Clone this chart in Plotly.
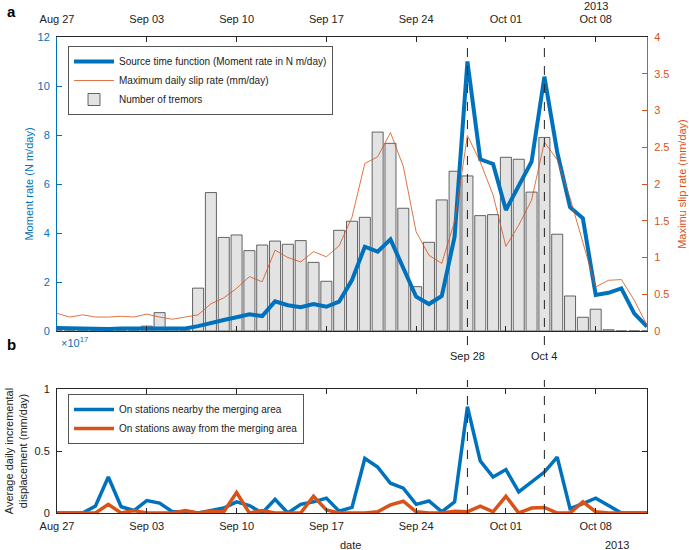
import plotly.graph_objects as go
import pandas as pd

# ---------------- data ----------------
dates = pd.date_range("2013-08-27", periods=47, freq="D")

tremors = [0, 0, 0, 0, 0, 0, 0, 0.2, 0.75, 0.1, 0, 1.75, 5.65, 3.82, 3.92, 3.28,
           3.51, 3.67, 3.54, 3.69, 2.80, 2.03, 4.11, 4.48, 4.64, 8.12, 7.66, 5.01,
           1.81, 3.62, 5.35, 6.52, 6.33, 4.71, 4.75, 7.09, 7.01, 5.67, 7.90, 3.95,
           1.43, 0.56, 0.89, 0.05, 0, 0, 0]

moment_rate = [0.12, 0.1, 0.1, 0.1, 0.08, 0.1, 0.1, 0.1, 0.08, 0.08, 0.1, 0.2, 0.34,
               0.45, 0.56, 0.68, 0.61, 1.21, 1.05, 0.97, 1.10, 0.99, 1.20, 2.08, 3.44,
               3.24, 3.74, 2.56, 1.40, 1.10, 1.43, 3.85, 11.0, 7.01, 6.82, 4.94, 5.96,
               6.91, 10.38, 7.3, 5.05, 4.60, 1.47, 1.56, 1.74, 0.72, 0.18]

slip_rate = [0.24, 0.19, 0.22, 0.19, 0.19, 0.20, 0.19, 0.23, 0.19, 0.16, 0.19, 0.22,
             0.37, 0.45, 0.58, 0.74, 0.67, 1.10, 1.00, 0.94, 1.08, 1.01, 1.16, 1.55,
             2.28, 2.37, 2.70, 2.24, 1.35, 1.03, 0.92, 1.49, 2.66, 2.30, 1.85, 1.15,
             1.44, 1.78, 2.57, 2.33, 1.81, 1.19, 0.60, 0.69, 0.70, 0.42, 0.08]

near_disp = [0, 0, 0, 0.056, 0.29, 0.05, 0.02, 0.10, 0.08, 0.01, 0.01, 0, 0.02, 0.04,
             0.09, 0.06, 0, 0.11, 0, 0.07, 0.09, 0.12, 0.015, 0.045, 0.44, 0.37, 0.24,
             0.20, 0.07, 0.097, 0.01, 0.09, 0.857, 0.42, 0.29, 0.35, 0.17, 0.25, 0.33,
             0.45, 0.035, 0.075, 0.12, 0.06, 0, 0, 0]

away_disp = [0, 0, 0, 0, 0.07, 0, 0.02, 0, 0, 0, 0.02, 0, 0.015, 0.01, 0.165, 0, 0.02,
             0, 0, 0, 0.135, 0.025, 0, 0, 0, 0.01, 0.065, 0.095, 0.01, 0, 0, 0.015,
             0.01, 0.055, 0.01, 0.135, 0, 0.04, 0.045, 0, 0, 0.09, 0.01, 0, 0, 0, 0]

event_dates = ["2013-09-28", "2013-10-04"]
event_labels = ["Sep 28", "Oct 4"]

# ---------------- style ----------------
BLUE = "#0072BD"
ORANGE = "#D95319"
AX = "#262626"
FONT = "Liberation Sans, Arial, sans-serif"

W, H = 689, 550
L, R, T, B = 57, 42, 37, 37
PW, PH = W - L - R, H - T - B


def px(x):
    return (x - L) / PW


def py(y):
    return (H - B - y) / PH


fig = go.Figure()

fig.add_trace(go.Bar(x=dates, y=tremors, name="Number of tremors",
                     marker=dict(color="#E3E3E3", line=dict(color="#404040", width=0.8)),
                     width=0.86 * 86400000, xaxis="x", yaxis="y", legend="legend",
                     legendrank=3))
fig.add_trace(go.Scatter(x=dates, y=moment_rate, mode="lines",
                         name="Source time function (Moment rate in N m/day)",
                         line=dict(color=BLUE, width=4), xaxis="x", yaxis="y",
                         legend="legend", legendrank=1))
fig.add_trace(go.Scatter(x=dates, y=slip_rate, mode="lines",
                         name="Maximum daily slip rate (mm/day)",
                         line=dict(color=ORANGE, width=1), opacity=0.8,
                         xaxis="x", yaxis="y2", legend="legend", legendrank=2))

fig.add_trace(go.Scatter(x=dates, y=near_disp, mode="lines",
                         name="On stations nearby the merging area",
                         line=dict(color=BLUE, width=3.5), xaxis="x2", yaxis="y3",
                         legend="legend2"))
fig.add_trace(go.Scatter(x=dates, y=away_disp, mode="lines",
                         name="On stations away from the merging area",
                         line=dict(color=ORANGE, width=3.5), xaxis="x2", yaxis="y3",
                         legend="legend2"))

xr = ["2013-08-27", "2013-10-12"]
xcommon = dict(range=xr, tick0="2013-08-27", dtick=7 * 86400000, tickformat="%b %d",
               ticks="inside", ticklen=5, tickcolor=AX, showline=True, linecolor=AX,
               linewidth=1, mirror="ticks", showgrid=False, zeroline=False,
               automargin=False, tickfont=dict(size=11, color="#222"))

top_dom = [py(331), 1.0]
bot_dom = [0.0, py(389)]

fig.update_layout(
    width=W, height=H,
    margin=dict(l=L, r=R, t=T, b=B, autoexpand=False),
    paper_bgcolor="white", plot_bgcolor="white",
    font=dict(family=FONT, size=11, color="#222"),
    showlegend=True,
    barmode="overlay",
    xaxis=dict(**xcommon, domain=[0, 1], anchor="y", side="top", ticklabelstandoff=9),
    xaxis2=dict(**xcommon, domain=[0, 1], anchor="y3", side="bottom",
                ticklabelstandoff=3),
    yaxis=dict(domain=top_dom, range=[0, 12], dtick=2, ticks="inside", ticklen=5,
               tickcolor=BLUE, showline=True, linecolor=BLUE, linewidth=1,
               showgrid=False, zeroline=False, automargin=False,
               tickfont=dict(size=11, color=BLUE), ticklabelstandoff=4,
               title=dict(text="Moment rate (N m/day)", font=dict(size=11, color=BLUE),
                          standoff=1)),
    yaxis2=dict(domain=top_dom, range=[0, 4], dtick=0.5, overlaying="y", side="right",
                anchor="x", ticks="inside", ticklen=5, tickcolor=ORANGE, showline=True,
                linecolor=ORANGE, linewidth=1, showgrid=False, zeroline=False,
                automargin=False, tickfont=dict(size=11, color=ORANGE),
                ticklabelstandoff=4,
                title=dict(text="Maximu slip rate (mm/day)",
                           font=dict(size=11, color=ORANGE), standoff=9)),
    yaxis3=dict(domain=bot_dom, range=[0, 1], dtick=0.5, anchor="x2", ticks="inside",
                ticklen=5, tickcolor=AX, showline=True, linecolor=AX, linewidth=1,
                mirror="ticks", showgrid=False, zeroline=False, automargin=False,
                tickfont=dict(size=11, color="#222"), ticklabelstandoff=4,
                title=dict(text="Average daily incremental<br>displacement (mm/day)",
                           font=dict(size=11, color="#222"), standoff=4)),
    legend=dict(x=px(68), y=py(46), xanchor="left", yanchor="top",
                bgcolor="white", bordercolor="#555", borderwidth=1,
                font=dict(size=10, color="#222"), traceorder="normal",
                itemwidth=40, tracegroupgap=0),
    legend2=dict(x=px(68), y=py(394), xanchor="left", yanchor="top",
                 bgcolor="white", bordercolor="#555", borderwidth=1,
                 font=dict(size=10, color="#222"), itemwidth=40),
)

# dashed event lines
for d in event_dates:
    fig.add_shape(type="line", xref="x", yref="paper", x0=d, x1=d,
                  y0=py(345), y1=1.0, line=dict(color="#222", width=1, dash="dash"))
    fig.add_shape(type="line", xref="x", yref="paper", x0=d, x1=d,
                  y0=0, y1=py(380), line=dict(color="#222", width=1, dash="dash"))

for d, lab in zip(event_dates, event_labels):
    fig.add_annotation(x=d, xref="x", y=py(356), yref="paper", text=lab,
                       showarrow=False, font=dict(size=11, color="#222"),
                       xanchor="center", yanchor="middle")

annots = [
    dict(x=px(5), y=py(12), text="<b>a</b>", size=15, color="#000", xanchor="left"),
    dict(x=px(5), y=py(345), text="<b>b</b>", size=15, color="#000", xanchor="left"),
    dict(x=px(596), y=py(6), text="2013", size=11, color="#222", xanchor="center"),
    dict(x=px(59), y=py(342), text="×10<sup>17</sup>", size=11, color=BLUE,
         xanchor="left"),
    dict(x=px(350), y=py(545), text="date", size=11, color="#222", xanchor="center"),
    dict(x=px(617), y=py(545), text="2013", size=11, color="#222", xanchor="center"),
]
for a in annots:
    fig.add_annotation(x=a["x"], y=a["y"], xref="paper", yref="paper", text=a["text"],
                       showarrow=False, font=dict(size=a["size"], color=a["color"]),
                       xanchor=a["xanchor"], yanchor="middle")

fig.write_html("out.html", config={"displayModeBar": False},
               post_script="document.body.style.margin='0';document.body.style.padding='0';")
